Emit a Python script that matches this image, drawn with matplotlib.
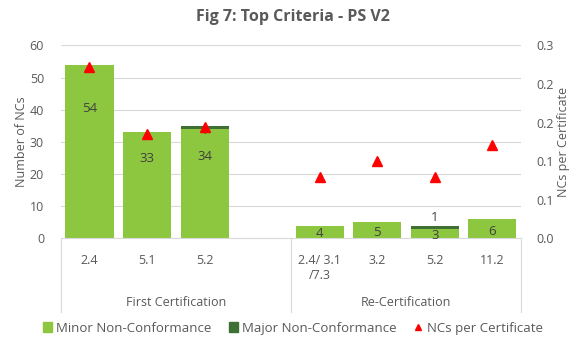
import matplotlib
matplotlib.use("Agg")
import matplotlib.pyplot as plt
from matplotlib.lines import Line2D
from matplotlib.ticker import FormatStrFormatter
import numpy as np

# data
categories = ["2.4", "5.1", "5.2", "", "2.4/ 3.1\n/7.3", "3.2", "5.2", "11.2"]
groups = ["First Certification", "Re-Certification"]
group_sizes = [4, 4]
minor = [54, 33, 34, 0, 4, 5, 3, 6]
major = [0, 0, 1, 0, 0, 0, 1, 0]
nc_per_cert = [0.267, 0.162, 0.173, np.nan, 0.096, 0.121, 0.096, 0.145]

minor_col = "#8DC63F"
major_col = "#3E7036"
text_col = "#595959"
grid_col = "#D9D9D9"

plt.rcParams['font.family'] = ['Open Sans', 'DejaVu Sans']

fig = plt.figure(figsize=(5.86, 3.48), dpi=100)
ax = fig.add_axes([0.1036, 0.3147, 0.7855, 0.5546])
x = np.arange(len(categories))

ax.bar(x, minor, width=0.835, color=minor_col, zorder=2)
ax.bar(x, major, bottom=minor, width=0.835, color=major_col, zorder=2)

# value labels
for xi, v, m in zip(x, minor, major):
    if v > 0:
        y = v * 0.75 if v > 10 else v * 0.35
        ax.text(xi, y, str(v), ha="center", va="center", fontsize=9.5, color="#404040", zorder=3)
    if m > 0:
        tot = v + m
        y = tot + 2.5 if tot < 10 else tot - 1.5
        ax.text(xi, y, str(m), ha="center", va="center", fontsize=9.5, color="#404040", zorder=3)

ax.set_ylim(0, 60)
ax.set_xlim(-0.5, len(categories) - 0.5)
ax.set_yticks(np.arange(0, 61, 10))
ax.yaxis.grid(True, color=grid_col, lw=0.8)
ax.set_axisbelow(True)
ax.set_xticks(x, categories)
ax.tick_params(axis="x", length=0, pad=11, labelsize=9, labelcolor=text_col)
ax.tick_params(axis="y", length=0, pad=12, labelsize=9, labelcolor=text_col)
ax.set_ylabel("Number of NCs", fontsize=9, color=text_col, labelpad=1.5)
for s in ["top", "left", "right"]:
    ax.spines[s].set_visible(False)
ax.spines["bottom"].set_color(grid_col)
ax.spines["bottom"].set_linewidth(0.8)

# group boxes under the category axis
trans = ax.get_xaxis_transform()
bounds = np.concatenate([[0], np.cumsum(group_sizes)]) - 0.5
for b in bounds:
    ax.plot([b, b], [0, -0.38], transform=trans, clip_on=False, color=grid_col, lw=0.8)
for i, g in enumerate(groups):
    ax.text((bounds[i] + bounds[i + 1]) / 2, -0.334, g, transform=trans,
            ha="center", va="center", fontsize=9, color=text_col)

ax2 = ax.twinx()
ax2.plot(x, nc_per_cert, linestyle="none", marker="^", color="#FF0000", ms=6.5, zorder=4)
ax2.set_ylim(0, 0.3)
ax2.set_yticks(np.arange(0, 0.31, 0.06))
ax2.yaxis.set_major_formatter(FormatStrFormatter("%.1f"))
ax2.tick_params(axis="y", length=0, pad=11, labelsize=9, labelcolor=text_col)
ax2.set_ylabel("NCs per Certificate", fontsize=9, color=text_col, labelpad=2)
for s in ["top", "left", "right", "bottom"]:
    ax2.spines[s].set_visible(False)

fig.text(0.5, 1 - 17 / 348, "Fig 7: Top Criteria - PS V2", ha="center", va="center",
         fontsize=11.5, fontweight="bold", color=text_col)

handles = [
    plt.Rectangle((0, 0), 1, 1, color=minor_col),
    plt.Rectangle((0, 0), 1, 1, color=major_col),
    Line2D([], [], linestyle="none", marker="^", color="#FF0000", ms=5),
]
labels = ["Minor Non-Conformance", "Major Non-Conformance", "NCs per Certificate"]
fig.legend(handles, labels, loc="center", bbox_to_anchor=(0.5, 0.057), ncol=3,
           frameon=False, handlelength=0.7, handleheight=0.7, handletextpad=0.3,
           columnspacing=1.3, fontsize=9.5, labelcolor=text_col)

fig.savefig("out.png", dpi=100)
